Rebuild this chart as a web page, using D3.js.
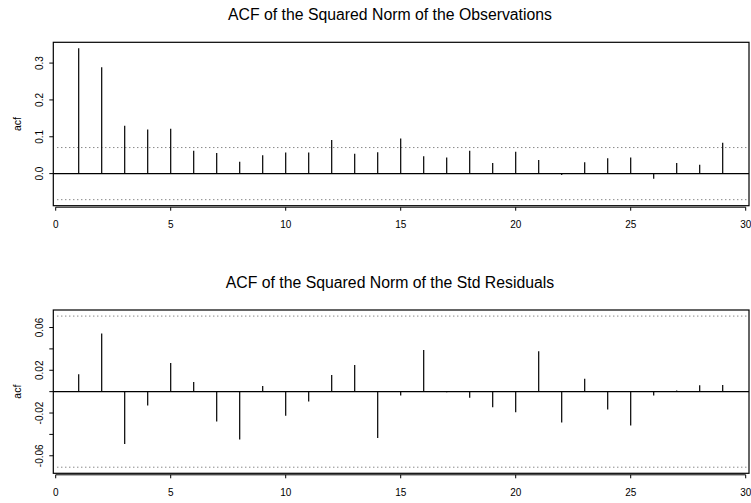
<!DOCTYPE html>
<html>
<head>
<meta charset="utf-8">
<script src="https://cdn.jsdelivr.net/npm/d3@7"></script>
<style>
  body { margin: 0; background: #fff; }
  svg { display: block; font-family: "Liberation Sans", Arial, sans-serif; }
</style>
</head>
<body>
<svg id="chart" width="751" height="503"></svg>
<script>
// lags and autocorrelations
const lags = d3.range(1, 30);
const acfObs = [0.340, 0.289, 0.130, 0.120, 0.122, 0.062, 0.056, 0.032, 0.050, 0.057,
                0.057, 0.091, 0.054, 0.058, 0.095, 0.047, 0.044, 0.062, 0.029, 0.059,
                0.037, -0.004, 0.031, 0.042, 0.044, -0.014, 0.029, 0.024, 0.084];
const acfRes = [0.0162, 0.0543, -0.0489, -0.0130, 0.0267, 0.0090, -0.0279, -0.0447, 0.0053, -0.0226,
                -0.0093, 0.0155, 0.0249, -0.0434, -0.0037, 0.0389, -0.0005, -0.0056, -0.0145, -0.0192,
                0.0379, -0.0288, 0.0121, -0.0167, -0.0316, -0.0037, 0.0010, 0.0059, 0.0062];
const confBound = 0.0707;
const xTicks = [0, 5, 10, 15, 20, 25, 30];
const obsTicks = [0, 0.1, 0.2, 0.3];
const resTicks = [-0.06, -0.04, -0.02, 0, 0.02, 0.04, 0.06];
const resLabels = [-0.06, -0.02, 0.02, 0.06];

const svg = d3.select('#chart');

const boxLeft = 53.3, boxRight = 749;
const titleX = 390;
const x = d3.scaleLinear().domain([0, 30]).range([55.7, 745.7]);

function panel(opts) {
  const { top, bottom, domain, values, ticks, labels, fmt, title } = opts;
  const y = d3.scaleLinear().domain(domain).range([bottom, top]);
  const g = svg.append('g');

  // title
  g.append('text')
    .attr('x', titleX)
    .attr('y', top - 22.5)
    .attr('text-anchor', 'middle')
    .style('font-size', '15.8px')
    .text(title);

  // confidence bounds
  [confBound, -confBound].forEach(c => {
    g.append('line')
      .attr('x1', boxLeft + 4).attr('x2', boxRight - 2)
      .attr('y1', y(c)).attr('y2', y(c))
      .attr('stroke', '#555')
      .attr('stroke-width', 1)
      .attr('stroke-dasharray', '1,3');
  });

  // zero line
  g.append('line')
    .attr('x1', boxLeft).attr('x2', boxRight)
    .attr('y1', y(0)).attr('y2', y(0))
    .attr('stroke', '#000')
    .attr('stroke-width', 1.2);

  // stems
  g.selectAll('.stem')
    .data(lags)
    .enter()
    .append('line')
    .attr('class', 'stem')
    .attr('x1', d => x(d)).attr('x2', d => x(d))
    .attr('y1', y(0))
    .attr('y2', (d, i) => y(values[i]))
    .attr('stroke', '#000')
    .attr('stroke-width', 1.2);

  // box
  g.append('rect')
    .attr('x', boxLeft).attr('y', top)
    .attr('width', boxRight - boxLeft)
    .attr('height', bottom - top)
    .attr('fill', 'none')
    .attr('stroke', '#000')
    .attr('stroke-width', 1.2);

  // x axis below the box
  const xa = g.append('g').attr('transform', `translate(0,${bottom + 1.5})`);
  xa.append('line')
    .attr('x1', x(0)).attr('x2', x(30))
    .attr('stroke', '#000').attr('stroke-width', 1);
  xa.selectAll('.xt')
    .data(xTicks)
    .enter()
    .append('line')
    .attr('x1', d => x(d)).attr('x2', d => x(d))
    .attr('y1', 0).attr('y2', 3.5)
    .attr('stroke', '#000');
  xa.selectAll('.xl')
    .data(xTicks)
    .enter()
    .append('text')
    .attr('x', d => x(d))
    .attr('y', 21.3)
    .attr('text-anchor', 'middle')
    .style('font-size', '10px')
    .text(d => d);

  // y axis ticks and rotated labels
  g.selectAll('.yt')
    .data(ticks)
    .enter()
    .append('line')
    .attr('x1', boxLeft - 4).attr('x2', boxLeft)
    .attr('y1', d => y(d)).attr('y2', d => y(d))
    .attr('stroke', '#000');
  g.selectAll('.yl')
    .data(labels)
    .enter()
    .append('text')
    .attr('transform', d => `translate(43.3,${y(d)}) rotate(-90)`)
    .attr('text-anchor', 'middle')
    .style('font-size', '10px')
    .text(fmt);

  g.append('text')
    .attr('transform', `translate(20.7,${(top + bottom) / 2}) rotate(-90)`)
    .attr('text-anchor', 'middle')
    .style('font-size', '10.5px')
    .text('acf');
}

panel({
  top: 42.3, bottom: 205.7,
  domain: [-0.0871, 0.3564],
  values: acfObs,
  ticks: obsTicks, labels: obsTicks,
  fmt: d3.format('.1f'),
  title: 'ACF of the Squared Norm of the Observations'
});

panel({
  top: 310, bottom: 473.3,
  domain: [-0.0764, 0.0764],
  values: acfRes,
  ticks: resTicks, labels: resLabels,
  fmt: d => d3.format('.2f')(d).replace('−', '-'),
  title: 'ACF of the Squared Norm of the Std Residuals'
});
</script>
</body>
</html>
